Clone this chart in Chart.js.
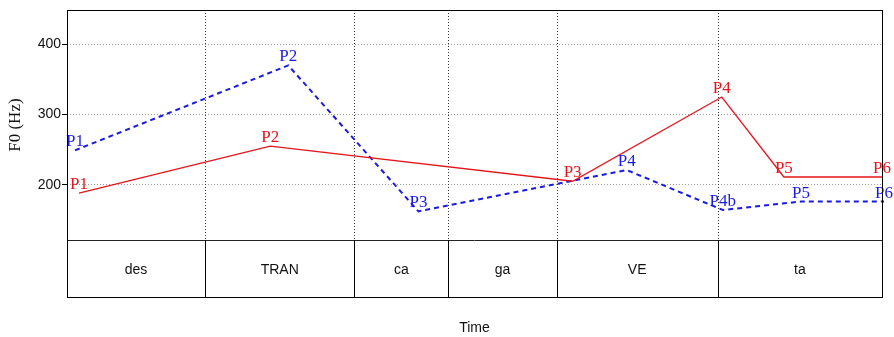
<!DOCTYPE html>
<html>
<head>
<meta charset="utf-8">
<script src="https://cdn.jsdelivr.net/npm/chart.js@4.4.1/dist/chart.umd.min.js"></script>
<style>
html, body { margin: 0; padding: 0; background: #fff; }
#wrap { width: 894px; height: 337px; }
</style>
</head>
<body>
<div id="wrap"><canvas id="c" width="894" height="337"></canvas></div>
<script>
// contour data (time in ms, F0 in Hz)
const redTimes = [12, 203, 505, 654, 716, 814];
const redF0 = [188, 255, 205, 325, 211, 211];
const redLabels = ['P1', 'P2', 'P3', 'P4', 'P5', 'P6'];

const blueTimes = [8, 221, 351, 559, 655, 733, 816];
const blueF0 = [249, 370, 162, 221, 164, 176, 176];
const blueLabels = ['P1', 'P2', 'P3', 'P4', 'P4b', 'P5', 'P6'];

// syllable tier
const segBounds = [0, 138, 287, 381, 489, 650, 814];
const segLabels = ['des', 'TRAN', 'ca', 'ga', 'VE', 'ta'];

const yTicks = [200, 300, 400];
const f0Floor = 121; // lower edge of the F0 panel, tier sits below

const RED = '#e8141a';
const BLUE = '#1a1ae6';

function toPoints(xs, ys) {
    return xs.map((x, i) => ({ x: x, y: ys[i] }));
}

// vertical dotted guides + tier box
const tierPlugin = {
    id: 'tier',
    beforeDatasetsDraw(chart) {
        const ctx = chart.ctx;
        const xs = chart.scales.x, ys = chart.scales.y;
        const area = chart.chartArea;
        const floorPx = Math.round(ys.getPixelForValue(f0Floor)) + 0.5;
        ctx.save();
        // dotted verticals in the F0 panel
        ctx.strokeStyle = '#333';
        ctx.lineWidth = 1;
        ctx.setLineDash([1, 2]);
        segBounds.slice(1, -1).forEach(b => {
            const px = Math.round(xs.getPixelForValue(b)) + 0.5;
            ctx.beginPath();
            ctx.moveTo(px, area.top);
            ctx.lineTo(px, floorPx);
            ctx.stroke();
        });
        ctx.setLineDash([]);
        // tier box
        ctx.strokeStyle = '#222';
        ctx.beginPath();
        ctx.moveTo(area.left, floorPx);
        ctx.lineTo(area.right, floorPx);
        ctx.stroke();
        ctx.strokeStyle = '#000';
        segBounds.slice(1, -1).forEach(b => {
            const px = Math.round(xs.getPixelForValue(b)) + 0.5;
            ctx.beginPath();
            ctx.moveTo(px, floorPx);
            ctx.lineTo(px, area.bottom);
            ctx.stroke();
        });
        ctx.fillStyle = '#111';
        ctx.font = '14px "Liberation Sans", Arial, sans-serif';
        ctx.textAlign = 'center';
        ctx.textBaseline = 'alphabetic';
        segLabels.forEach((lab, i) => {
            const cx = (xs.getPixelForValue(segBounds[i]) + xs.getPixelForValue(segBounds[i + 1])) / 2;
            ctx.fillText(lab, cx, 274);
        });
        ctx.restore();
    },
    afterDatasetsDraw(chart) {
        const ctx = chart.ctx;
        ctx.save();
        ctx.font = '17px "Liberation Serif", "Times New Roman", serif';
        ctx.textAlign = 'center';
        ctx.textBaseline = 'alphabetic';
        chart.data.datasets.forEach((ds, i) => {
            const meta = chart.getDatasetMeta(i);
            ctx.fillStyle = ds.borderColor;
            meta.data.forEach((pt, j) => {
                ctx.fillText(ds.pointLabels[j], pt.x, pt.y - 4);
            });
        });
        ctx.restore();
    },
    afterDraw(chart) {
        const ctx = chart.ctx;
        const area = chart.chartArea;
        const ys = chart.scales.y;
        ctx.save();
        ctx.strokeStyle = '#000';
        ctx.lineWidth = 1;
        ctx.strokeRect(area.left + 0.5, area.top + 0.5, area.right - area.left, area.bottom - area.top);
        // axis titles
        ctx.fillStyle = '#111';
        ctx.font = '14px "Liberation Sans", Arial, sans-serif';
        ctx.textAlign = 'center';
        ctx.fillText('Time', (area.left + area.right) / 2, 332);
        const midY = (area.top + ys.getPixelForValue(f0Floor)) / 2;
        ctx.translate(16, midY);
        ctx.rotate(-Math.PI / 2);
        ctx.font = '17px "Liberation Serif", "Times New Roman", serif';
        ctx.textBaseline = 'middle';
        ctx.fillText('F0 (Hz)', 0, 0);
        ctx.restore();
    }
};

new Chart(document.getElementById('c').getContext('2d'), {
    type: 'line',
    data: {
        datasets: [{
            data: toPoints(redTimes, redF0),
            pointLabels: redLabels,
            borderColor: RED,
            borderWidth: 1.3,
            pointRadius: 0,
            tension: 0,
            clip: false
        }, {
            data: toPoints(blueTimes, blueF0),
            pointLabels: blueLabels,
            borderColor: BLUE,
            borderWidth: 2,
            borderDash: [5, 4],
            pointRadius: 0,
            tension: 0,
            clip: false
        }]
    },
    options: {
        responsive: false,
        devicePixelRatio: 1,
        animation: false,
        layout: { padding: { left: 0, right: 12, top: 10, bottom: 40 } },
        plugins: { legend: { display: false }, tooltip: { enabled: false } },
        scales: {
            x: { type: 'linear', display: false, min: 0, max: 814 },
            y: {
                type: 'linear',
                min: 40,
                max: 449,
                afterBuildTicks: s => { s.ticks = yTicks.map(v => ({ value: v })); },
                afterFit: s => { s.width = 67; },
                ticks: {
                    color: '#111',
                    padding: 1,
                    font: { family: '"Liberation Sans", Arial, sans-serif', size: 14 }
                },
                grid: { color: '#999', tickColor: '#000', tickLength: 5 },
                border: { display: false, dash: [1, 2] }
            }
        }
    },
    plugins: [tierPlugin]
});
</script>
</body>
</html>
